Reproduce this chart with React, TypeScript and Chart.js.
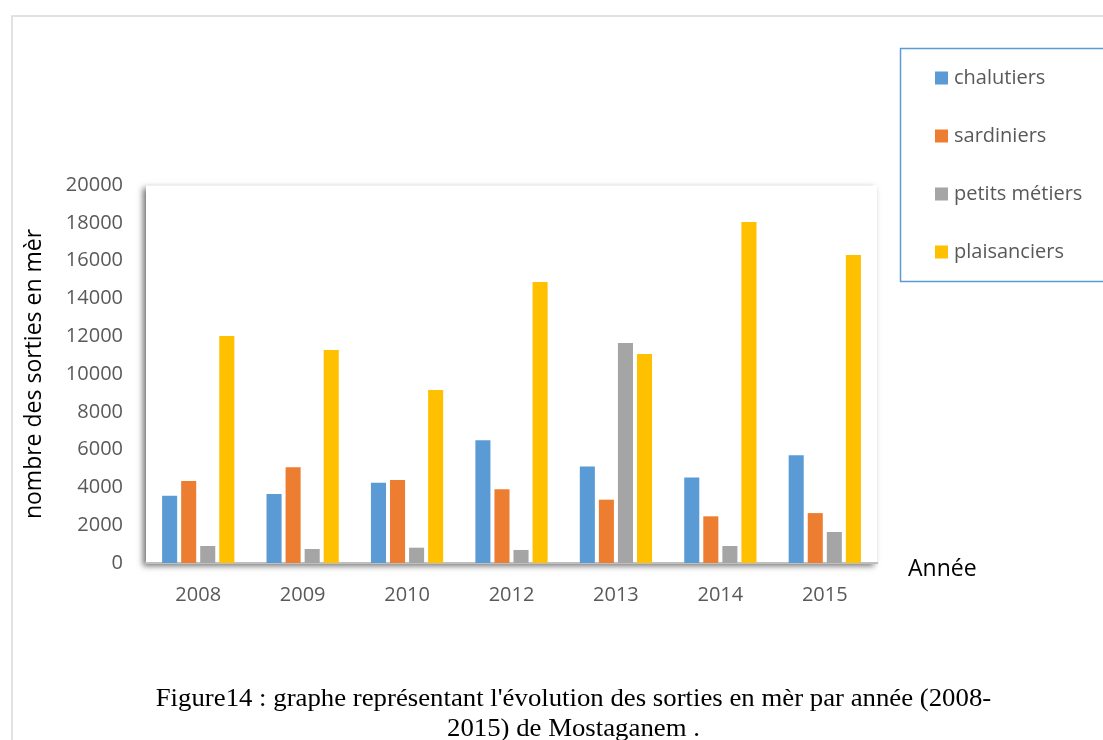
import React, { useEffect, useRef } from "react";
import { Chart, registerables } from "chart.js";

Chart.register(...registerables);

const years = ["2008", "2009", "2010", "2012", "2013", "2014", "2015"];
const chalutiers = [3560, 3650, 4250, 6490, 5100, 4530, 5700];
const sardiniers = [4340, 5060, 4390, 3900, 3350, 2470, 2640];
const petitsMetiers = [900, 740, 810, 690, 11640, 900, 1640];
const plaisanciers = [12010, 11270, 9150, 14870, 11060, 18040, 16300];
const seriesNames = ["chalutiers", "sardiniers", "petits métiers", "plaisanciers"];
const seriesColors = ["#5B9BD5", "#ED7D31", "#A5A5A5", "#FFC000"];
const yTitle = "nombre des sorties en mèr";
const xTitle = "Année";
const captionLine1 = "Figure14 : graphe représentant l'évolution des sorties en mèr par année (2008-";
const captionLine2 = "2015) de Mostaganem .";

const FONT = "'Open Sans', 'Liberation Sans', sans-serif";
const TEXT_GRAY = "#595959";

const decorPlugin = {
  id: "decor",
  beforeDraw(chart: any) {
    const { ctx, chartArea } = chart;
    const { left, top, right, bottom } = chartArea;
    ctx.save();
    // outer frame
    ctx.strokeStyle = "#d9d9d9";
    ctx.lineWidth = 1.5;
    ctx.beginPath();
    ctx.moveTo(12, 740);
    ctx.lineTo(12, 16);
    ctx.lineTo(1103, 16);
    ctx.stroke();
    // plot area with shadow
    ctx.shadowColor = "rgba(0,0,0,0.55)";
    ctx.shadowBlur = 6;
    ctx.shadowOffsetX = -3;
    ctx.shadowOffsetY = 3;
    ctx.fillStyle = "#ffffff";
    ctx.fillRect(left, top, right - left, bottom - top);
    ctx.restore();
    ctx.save();
    ctx.strokeStyle = "#f0f0f0";
    ctx.lineWidth = 1;
    ctx.beginPath();
    ctx.moveTo(left, top + 0.5);
    ctx.lineTo(right - 4, top + 0.5);
    ctx.moveTo(right + 0.5, top + 6);
    ctx.lineTo(right + 0.5, bottom);
    ctx.stroke();
    ctx.restore();
  },
  afterDraw(chart: any) {
    const { ctx } = chart;
    ctx.save();
    // legend box
    ctx.strokeStyle = "#5B9BD5";
    ctx.lineWidth = 1.5;
    ctx.strokeRect(900.5, 48.5, 240, 233);
    ctx.font = `20px ${FONT}`;
    ctx.textBaseline = "middle";
    ctx.textAlign = "left";
    chart.data.datasets.forEach((ds: any, i: number) => {
      const cy = 78 + i * 58;
      ctx.fillStyle = ds.backgroundColor;
      ctx.fillRect(935, cy - 6.5, 13, 13);
      ctx.fillStyle = TEXT_GRAY;
      ctx.fillText(ds.label, 954, cy);
    });
    // x axis title
    ctx.font = `23px ${FONT}`;
    ctx.fillStyle = "#000000";
    ctx.fillText(xTitle, 908, 569);
    ctx.restore();
  },
};

export default function App() {
  const canvasRef = useRef<HTMLCanvasElement | null>(null);

  useEffect(() => {
    document.body.style.overflow = "hidden";
    const canvas = canvasRef.current;
    if (!canvas) return;
    const dataArrays = [chalutiers, sardiniers, petitsMetiers, plaisanciers];
    const chart = new Chart(canvas, {
      type: "bar",
      data: {
        labels: years,
        datasets: dataArrays.map((d, i) => ({
          label: seriesNames[i],
          data: d,
          backgroundColor: seriesColors[i],
          borderWidth: 0,
          categoryPercentage: 0.73,
          barPercentage: 0.79,
        })),
      },
      options: {
        responsive: false,
        animation: false,
        devicePixelRatio: 1,
        layout: { padding: { left: 0, top: 185, right: 226, bottom: 117 } },
        plugins: {
          legend: { display: false },
          tooltip: { enabled: false },
        },
        scales: {
          x: {
            grid: { display: false, drawTicks: false },
            border: { display: true, color: "#bfbfbf", width: 2 },
            ticks: {
              color: TEXT_GRAY,
              font: { family: FONT, size: 20 },
              padding: 20,
              maxRotation: 0,
            },
            afterFit(scale: any) {
              scale.height = 60;
            },
          },
          y: {
            min: 0,
            max: 20000,
            grid: { display: false, drawTicks: false },
            border: { display: false },
            ticks: {
              stepSize: 2000,
              color: TEXT_GRAY,
              font: { family: FONT, size: 20 },
              padding: 23,
              callback: (v: any) => String(v),
            },
            title: {
              display: true,
              text: yTitle,
              color: "#000000",
              font: { family: FONT, size: 23 },
              padding: { top: 21, bottom: 0 },
            },
            afterFit(scale: any) {
              scale.width = 146;
            },
          },
        },
      },
      plugins: [decorPlugin],
    });
    return () => chart.destroy();
  }, []);

  return (
    <div style={{ position: "absolute", left: 0, top: 0, width: 1103, height: 740, overflow: "hidden", background: "#fff" }}>
      <canvas ref={canvasRef} width={1103} height={740} style={{ position: "absolute", left: 0, top: 0 }} />
      <div
        style={{
          position: "absolute",
          left: 0,
          top: 683,
          width: 1103,
          paddingLeft: 44,
          boxSizing: "border-box",
          textAlign: "center",
          fontFamily: "'Liberation Serif', 'Times New Roman', serif",
          fontSize: 26,
          lineHeight: "30px",
          color: "#000",
          whiteSpace: "nowrap",
          transform: "scaleX(1.03)",
          transformOrigin: "575px 0",
        }}
      >
        <div>{captionLine1}</div>
        <div>{captionLine2}</div>
      </div>
    </div>
  );
}
